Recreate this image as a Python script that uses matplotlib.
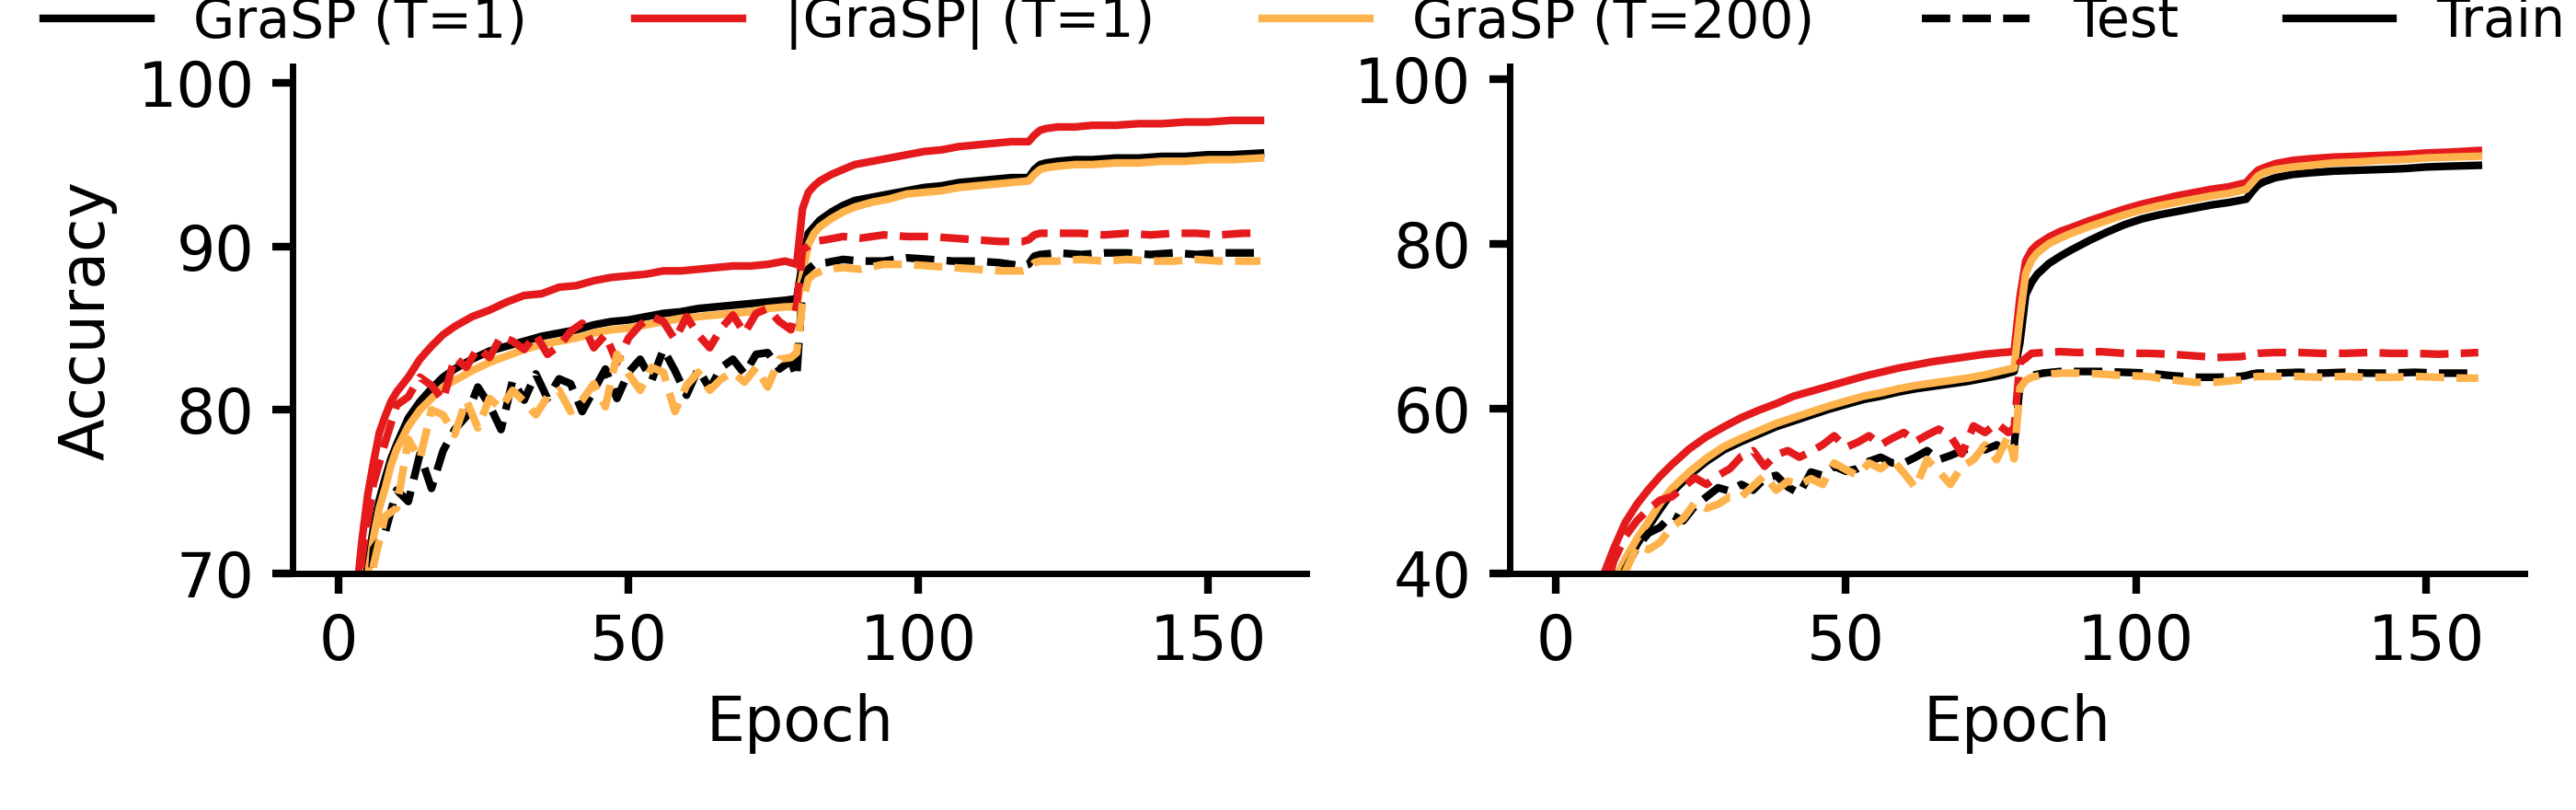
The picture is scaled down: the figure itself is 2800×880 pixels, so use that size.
import numpy as np
import matplotlib
matplotlib.use('Agg')
import matplotlib.pyplot as plt
from matplotlib.lines import Line2D

train_ep = [0, 1, 2, 3, 4, 5, 6, 7, 8, 9, 10, 12, 14, 16, 18, 20, 23, 26, 29, 32, 35, 38, 41, 44,
            47, 50, 53, 56, 59, 62, 65, 68, 71, 74, 77, 79, 80, 81, 82, 83, 85, 87, 89, 92, 95,
            98, 101, 104, 107, 110, 113, 116, 119, 120, 121, 122, 124, 127, 130, 134, 138, 142,
            146, 150, 154, 159]
test_ep = list(range(0, 80, 2)) + [79, 80, 81, 82, 84, 87, 90, 94, 98, 102, 106, 110, 114, 118,
                                   119, 120, 121, 124, 128, 132, 136, 140, 144, 148, 152, 156, 159]
test_ep = sorted(test_ep)

# ---- left panel ----
L_grasp_train = [35, 48, 57, 63, 67.5, 70.5, 72.8, 74.5, 75.8, 77.0, 77.9, 79.5, 80.5, 81.3, 82.0, 82.5,
                 83.1, 83.6, 83.9, 84.2, 84.5, 84.7, 84.9, 85.2, 85.4, 85.5, 85.7, 85.9, 86.0, 86.2,
                 86.3, 86.4, 86.5, 86.6, 86.7, 86.8, 89.0, 90.8, 91.2, 91.6, 92.1, 92.5, 92.8, 93.0,
                 93.2, 93.4, 93.6, 93.7, 93.9, 94.0, 94.1, 94.2, 94.2, 94.7, 95.0, 95.1, 95.2, 95.3,
                 95.3, 95.4, 95.4, 95.5, 95.5, 95.6, 95.6, 95.7]
L_abs_train = [40, 55, 63, 68.5, 72, 74.8, 76.8, 78.6, 79.6, 80.5, 81.1, 82.0, 83.1, 83.9, 84.6, 85.1,
               85.7, 86.1, 86.6, 87.0, 87.1, 87.5, 87.6, 87.9, 88.1, 88.2, 88.3, 88.5, 88.5, 88.6,
               88.7, 88.8, 88.8, 88.9, 89.1, 88.9, 92.3, 93.3, 93.7, 94.0, 94.4, 94.7, 95.0, 95.2,
               95.4, 95.6, 95.8, 95.9, 96.1, 96.2, 96.3, 96.4, 96.4, 96.8, 97.1, 97.2, 97.3, 97.3,
               97.4, 97.4, 97.5, 97.5, 97.6, 97.6, 97.7, 97.7]
L_t200_train = [33, 47, 56, 62.5, 67.2, 69.8, 72.2, 74.0, 75.2, 76.6, 77.6, 79.0, 80.0, 80.7, 81.4,
                81.8, 82.4, 82.9, 83.3, 83.7, 84.0, 84.2, 84.4, 84.7, 84.9, 85.0, 85.2, 85.4, 85.6,
                85.7, 85.8, 85.9, 86.0, 86.2, 86.3, 86.3, 88.3, 90.1, 90.8, 91.2, 91.7, 92.1, 92.4,
                92.7, 92.9, 93.2, 93.3, 93.4, 93.6, 93.7, 93.8, 93.9, 94.0, 94.4, 94.7, 94.8, 94.9,
                95.0, 95.0, 95.1, 95.1, 95.2, 95.2, 95.3, 95.3, 95.4]

L_grasp_test = [30, 50, 62, 71.5, 72.5, 75.1, 74.4, 77.3, 75.2, 77.5, 78.8, 79.6, 81.4, 80.3, 78.8,
                81.8, 80.6, 82.2, 80.7, 81.9, 81.6, 79.9, 81.2, 82.5, 80.7, 82.3, 83.1, 81.8, 83.7,
                82.4, 80.9, 82.5, 81.3, 82.6, 83.1, 82.2, 83.4, 83.5, 82.5, 83.0, 82.0, 87.5, 88.6,
                88.9, 89.0, 89.2, 89.1, 89.1, 89.3, 89.2, 89.1, 89.1, 89.0, 88.8, 88.9, 89.4, 89.5,
                89.6, 89.5, 89.6, 89.6, 89.5, 89.6, 89.5, 89.6, 89.6, 89.6]
L_abs_test = [40, 60, 71, 75.5, 78.0, 80.3, 80.8, 82.0, 81.5, 80.6, 83.2, 82.6, 83.8, 83.2, 84.5, 84.2,
              83.7, 84.6, 83.4, 83.9, 84.8, 85.3, 83.8, 84.6, 82.9, 84.4, 85.2, 85.7, 85.4, 84.3,
              85.7, 84.6, 83.8, 85.0, 85.8, 84.7, 85.9, 86.2, 85.4, 84.9, 86.4, 89.8, 90.0, 90.3,
              90.4, 90.6, 90.5, 90.7, 90.6, 90.6, 90.5, 90.4, 90.3, 90.3, 90.4, 90.7, 90.8, 90.8,
              90.8, 90.7, 90.8, 90.7, 90.8, 90.8, 90.7, 90.8, 90.8]
L_t200_test = [30, 52, 63, 70.5, 73.5, 74.0, 78.2, 77.0, 80.0, 79.7, 78.5, 80.6, 78.9, 80.7, 80.1,
               81.2, 80.5, 79.7, 80.8, 81.2, 79.9, 80.6, 81.6, 80.2, 83.4, 82.2, 81.2, 82.6, 82.3,
               79.9, 81.5, 82.3, 81.2, 81.9, 82.3, 81.7, 82.6, 81.4, 83.1, 83.2, 83.5, 86.5, 88.0,
               88.3, 88.6, 88.7, 88.6, 88.9, 88.9, 88.8, 88.7, 88.6, 88.5, 88.5, 88.6, 89.0, 89.1,
               89.1, 89.2, 89.1, 89.2, 89.1, 89.1, 89.2, 89.1, 89.1, 89.1]

# ---- right panel ----
R_grasp_train = [6, 10, 14, 18, 21.5, 25, 28.5, 31.5, 34.2, 36.5, 38.0, 40.8, 43.5, 45.7, 47.8, 49.8,
                 51.9, 53.6, 55.0, 56.0, 56.9, 57.8, 58.5, 59.2, 59.9, 60.5, 61.1, 61.5, 62.0, 62.4,
                 62.7, 63.0, 63.3, 63.7, 64.1, 64.5, 68.0, 73.8, 75.3, 76.3, 77.6, 78.5, 79.3, 80.4,
                 81.4, 82.3, 83.0, 83.5, 83.9, 84.3, 84.7, 85.0, 85.4, 86.3, 87.1, 87.5, 88.0, 88.4,
                 88.6, 88.8, 88.9, 89.0, 89.1, 89.3, 89.4, 89.5]
R_abs_train = [10, 14, 18, 22, 26, 30, 33.5, 36.5, 39.3, 41.2, 43.0, 46.2, 48.4, 50.2, 51.8, 53.2,
               55.1, 56.6, 57.8, 58.9, 59.8, 60.6, 61.5, 62.1, 62.7, 63.3, 63.9, 64.4, 64.9, 65.3,
               65.7, 66.0, 66.3, 66.6, 66.8, 66.9, 73.5, 77.9, 79.2, 79.9, 80.8, 81.5, 82.0, 82.8,
               83.5, 84.2, 84.8, 85.3, 85.8, 86.2, 86.6, 86.9, 87.4, 88.2, 88.9, 89.2, 89.7, 90.1,
               90.3, 90.5, 90.6, 90.7, 90.8, 91.0, 91.1, 91.3]
R_t200_train = [8, 12, 16, 20, 23.5, 27, 30, 33, 35.5, 37.2, 38.8, 41.8, 44.2, 46.3, 48.5, 50.3,
                52.3, 54.0, 55.4, 56.4, 57.3, 58.2, 58.9, 59.6, 60.3, 60.9, 61.5, 61.9, 62.4, 62.8,
                63.1, 63.4, 63.7, 64.1, 64.6, 64.9, 71.0, 76.4, 78.0, 78.9, 80.0, 80.7, 81.3, 82.1,
                82.8, 83.5, 84.1, 84.6, 85.0, 85.4, 85.8, 86.1, 86.6, 87.4, 88.2, 88.6, 89.0, 89.3,
                89.5, 89.8, 89.9, 90.1, 90.2, 90.4, 90.5, 90.6]

R_grasp_test = [8, 14, 20, 26, 31, 36, 40.5, 43.2, 44.9, 45.6, 47.1, 46.4, 48.2, 49.3, 50.4, 50.0,
                50.8, 50.1, 51.5, 51.9, 50.5, 49.7, 52.3, 51.9, 53.0, 52.4, 52.7, 53.6, 54.1, 53.4,
                53.4, 54.1, 54.9, 53.8, 54.3, 54.9, 55.3, 55.0, 55.6, 54.5, 55.4, 62.9, 63.6, 64.0,
                64.3, 64.5, 64.5, 64.5, 64.4, 64.3, 64.0, 63.8, 63.8, 63.9, 64.0, 64.2, 64.3, 64.3,
                64.4, 64.3, 64.4, 64.3, 64.3, 64.4, 64.3, 64.3, 64.3]
R_abs_test = [10, 17, 24, 31, 36, 41.5, 44.5, 46.4, 47.8, 48.9, 49.3, 50.5, 51.6, 50.8, 51.9, 52.7,
              54.2, 54.9, 53.0, 54.4, 54.9, 54.1, 54.8, 55.6, 56.7, 55.3, 55.9, 56.7, 55.6, 56.4,
              57.1, 56.0, 56.8, 57.5, 56.7, 54.5, 57.9, 57.1, 58.2, 57.1, 57.6, 65.6, 66.1, 66.7,
              66.8, 66.9, 66.8, 66.9, 66.7, 66.7, 66.6, 66.4, 66.2, 66.3, 66.4, 66.6, 66.7, 66.8,
              66.8, 66.7, 66.7, 66.8, 66.7, 66.7, 66.6, 66.7, 66.8]
R_t200_test = [7, 13, 19, 25, 30, 35, 40.2, 43.4, 42.9, 43.8, 45.6, 46.7, 48.6, 47.9, 48.4, 49.3,
               49.3, 50.6, 51.9, 50.1, 51.2, 50.8, 51.5, 50.8, 53.4, 52.6, 51.9, 53.4, 52.7, 53.8,
               52.2, 50.4, 53.8, 52.4, 50.8, 53.0, 53.8, 55.6, 53.8, 56.7, 53.9, 62.5, 63.4, 63.8,
               64.1, 64.3, 64.3, 64.2, 64.0, 63.9, 63.5, 63.2, 63.2, 63.5, 63.7, 63.8, 63.9, 63.9,
               63.9, 63.8, 63.9, 63.8, 63.8, 63.9, 63.8, 63.7, 63.7]

BLACK = 'black'
RED = '#e41a1c'
ORANGE = '#feb24c'
LW = 3

plt.rcParams['font.size'] = 24

fig = plt.figure(figsize=(14, 4.4), dpi=200)
ax1 = fig.add_axes([0.1136, 0.292, 0.3936, 0.626])
ax2 = fig.add_axes([0.586, 0.292, 0.394, 0.626])

panels = [
    (ax1, L_grasp_train, L_abs_train, L_t200_train, L_grasp_test, L_abs_test, L_t200_test,
     (70, 101), [70, 80, 90, 100]),
    (ax2, R_grasp_train, R_abs_train, R_t200_train, R_grasp_test, R_abs_test, R_t200_test,
     (40, 101.5), [40, 60, 80, 100]),
]

for ax, g_tr, a_tr, t_tr, g_te, a_te, t_te, ylim, yticks in panels:
    ax.plot(train_ep, g_tr, color=BLACK, lw=LW)
    ax.plot(train_ep, a_tr, color=RED, lw=LW)
    ax.plot(train_ep, t_tr, color=ORANGE, lw=LW)
    ax.plot(test_ep, g_te, color=BLACK, lw=LW, ls='--')
    ax.plot(test_ep, a_te, color=RED, lw=LW, ls='--')
    ax.plot(test_ep, t_te, color=ORANGE, lw=LW, ls='--')
    ax.set_ylim(*ylim)
    ax.set_yticks(yticks)
    ax.set_xticks([0, 50, 100, 150])
    ax.set_xlabel('Epoch', labelpad=8)
    ax.spines['top'].set_visible(False)
    ax.spines['right'].set_visible(False)
    ax.spines['left'].set_linewidth(2.5)
    ax.spines['bottom'].set_linewidth(2.5)
    ax.tick_params(width=3, length=8, pad=7)

ax1.set_ylabel('Accuracy', labelpad=8)

handles = [
    Line2D([], [], color=BLACK, lw=LW),
    Line2D([], [], color=RED, lw=LW),
    Line2D([], [], color=ORANGE, lw=LW),
    Line2D([], [], color=BLACK, lw=LW, ls='--'),
    Line2D([], [], color=BLACK, lw=LW),
]
labels = ['GraSP (T=1)', '|GraSP| (T=1)', 'GraSP (T=200)', 'Test', 'Train']
fig.legend(handles, labels, loc='center left', bbox_to_anchor=(-0.002, 0.972), ncol=5,
           frameon=False, fontsize=21)

fig.savefig('out.png', dpi=200)
